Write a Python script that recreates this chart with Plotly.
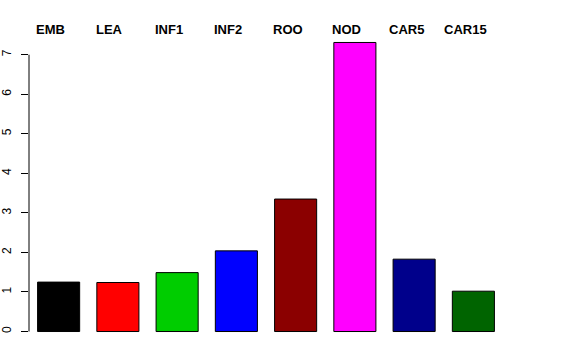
import plotly.graph_objects as go

categories = ["EMB", "LEA", "INF1", "INF2", "ROO", "NOD", "CAR5", "CAR15"]
values = [1.25, 1.24, 1.49, 2.04, 3.35, 7.31, 1.83, 1.02]
colors = ["#000000", "#FF0000", "#00CD00", "#0000FF", "#8B0000", "#FF00FF", "#00008B", "#006400"]
yticks = [0, 1, 2, 3, 4, 5, 6, 7]

fig = go.Figure()
fig.add_trace(go.Bar(
    x=categories, y=values,
    marker=dict(color=colors, line=dict(color="#000000", width=1)),
    hoverinfo="x+y",
))

for c in categories:
    fig.add_annotation(
        x=c, xref="x", y=1, yref="paper",
        text="<b>%s</b>" % c, showarrow=False,
        xanchor="center", yanchor="middle", xshift=-8, yshift=2,
        font=dict(family="Liberation Sans, Arial, sans-serif", size=13, color="#000000"),
    )

# axis line spanning only the tick range, like R
fig.add_shape(type="line", xref="paper", yref="y", x0=0, x1=0,
              y0=yticks[0], y1=yticks[-1], line=dict(color="#000000", width=1))

fig.update_layout(
    width=576, height=360,
    margin=dict(l=29, r=73, t=31, b=17),
    paper_bgcolor="white", plot_bgcolor="white",
    showlegend=False,
    bargap=0.29,
    font=dict(family="Liberation Sans, Arial, sans-serif", size=12, color="#000000"),
    xaxis=dict(showticklabels=False, showline=False, showgrid=False, zeroline=False,
               ticks="", range=[-0.5, 7.5], automargin=False),
    yaxis=dict(range=[-0.29, 7.6], tickvals=yticks, ticktext=[str(t) for t in yticks],
               ticks="outside", ticklen=7, tickcolor="#000000", tickwidth=1,
               showline=False, showgrid=False, zeroline=False, tickangle=-90,
               tickfont=dict(size=12), automargin=False, ticklabelstandoff=5),
)

fig.write_html("out.html", post_script="document.body.style.margin='0';",
               config={"displayModeBar": False})
